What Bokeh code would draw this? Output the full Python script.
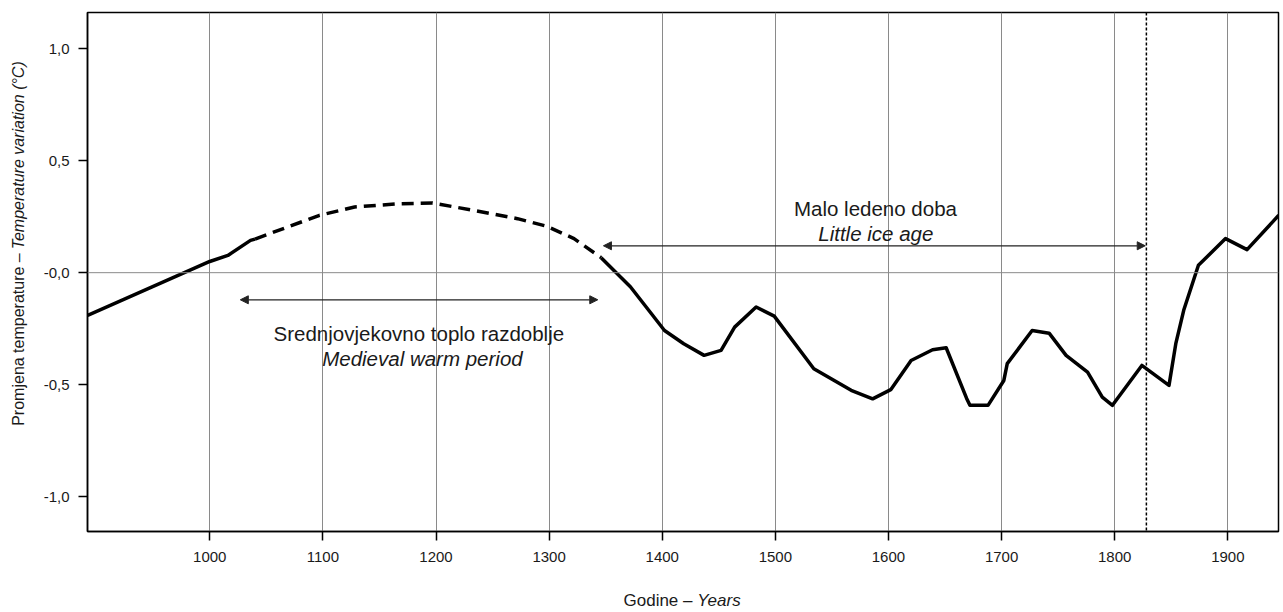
import math
from bokeh.plotting import figure
from bokeh.layouts import row, column
from bokeh.models import (FixedTicker, Span, Label, Arrow, NormalHead, Range1d)
from bokeh.core.properties import value
from bokeh.embed import file_html
from bokeh.resources import INLINE

# ---------------- data ----------------
years_solid_a = [892, 1000, 1016, 1036, 1040]
temps_solid_a = [-0.191, 0.050, 0.077, 0.144, 0.150]

years_dashed = [1040, 1069, 1097, 1128, 1169, 1197, 1242, 1272, 1298, 1322, 1346]
temps_dashed = [0.150, 0.204, 0.256, 0.293, 0.308, 0.311, 0.270, 0.241, 0.207, 0.152, 0.067]

years_solid_b = [1346, 1372, 1402, 1419, 1437, 1452, 1464, 1483, 1499, 1534, 1567,
                 1586, 1602, 1620, 1639, 1651, 1669, 1672, 1688, 1702, 1705, 1727,
                 1742, 1757, 1776, 1789, 1798, 1824, 1848, 1854, 1861, 1874, 1898,
                 1917, 1945]
temps_solid_b = [0.067, -0.064, -0.258, -0.317, -0.369, -0.347, -0.243, -0.153, -0.194, -0.429, -0.525,
                 -0.563, -0.522, -0.392, -0.344, -0.335, -0.560, -0.592, -0.592, -0.481, -0.406, -0.258,
                 -0.270, -0.369, -0.444, -0.555, -0.592, -0.414, -0.503, -0.317, -0.168, 0.033, 0.152,
                 0.103, 0.256]

x_ticks = [1000, 1100, 1200, 1300, 1400, 1500, 1600, 1700, 1800, 1900]
y_ticks = [-1.0, -0.5, 0.0, 0.5, 1.0]
y_tick_labels = ["-1,0", "-0,5", "-0,0", "0,5", "1,0"]

medieval_span = [1027, 1343]
medieval_level = -0.121
lia_span = [1348, 1827]
lia_level = 0.120
end_lia_year = 1828

y_title_parts = ["Promjena temperature \u2013", "Temperature variation (\u00b0C)"]
x_title_parts = ["Godine \u2013", "Years"]

# ---------------- main figure ----------------
FONT = "Liberation Sans"
TXT = "#1a1a1a"
GRID = "#8a8a8a"

p = figure(width=1243, height=582, output_backend="svg", toolbar_location=None, title=None,
           x_range=Range1d(891.9, 1944.8), y_range=Range1d(-1.155, 1.161),
           min_border_left=47, min_border_right=5, min_border_top=12, min_border_bottom=51,
           background_fill_color="white", border_fill_color="white")

p.outline_line_color = "black"
p.outline_line_width = 1.5

for ax in (p.xaxis[0], p.yaxis[0]):
    ax.axis_line_color = "black"
    ax.axis_line_width = 1.5
    ax.major_tick_line_color = "black"
    ax.major_tick_line_width = 1.5
    ax.major_tick_out = 9
    ax.major_tick_in = 0
    ax.minor_tick_line_color = None
    ax.major_label_text_font = FONT
    ax.major_label_text_font_size = "15px"
    ax.major_label_text_color = TXT

p.xaxis.ticker = FixedTicker(ticks=x_ticks)
p.yaxis.ticker = FixedTicker(ticks=y_ticks)
p.yaxis.major_label_overrides = {t: s for t, s in zip(y_ticks, y_tick_labels)}
p.xaxis.major_label_standoff = 11
p.yaxis.major_label_standoff = 9

p.xgrid.grid_line_color = GRID
p.xgrid.grid_line_width = 1
p.ygrid.grid_line_color = None

p.add_layout(Span(location=0, dimension="width", line_color=GRID, line_width=1))
p.add_layout(Span(location=end_lia_year, dimension="height", line_color="black",
                  line_width=1.5, line_dash="3 2"))

# curve
p.line(years_solid_a, temps_solid_a, line_color="black", line_width=3.5, line_join="round")
p.line(years_dashed, temps_dashed, line_color="black", line_width=3.5, line_dash="12 7")
p.line(years_solid_b, temps_solid_b, line_color="black", line_width=3.5, line_join="round")

# arrows
for span, level in ((medieval_span, medieval_level), (lia_span, lia_level)):
    p.add_layout(Arrow(x_start=span[0], y_start=level, x_end=span[1], y_end=level,
                       line_color="#222222", line_width=1.2,
                       start=NormalHead(size=8, fill_color="#222222", line_color="#222222"),
                       end=NormalHead(size=8, fill_color="#222222", line_color="#222222")))

def lab(x, y, text, size, style="normal", align="center", baseline="alphabetic"):
    p.add_layout(Label(x=x, y=y, text=text, text_font=FONT, text_font_size=size,
                       text_font_style=style, text_align=align, text_baseline=baseline,
                       text_color=TXT))

lab(1184.8, -0.271, "Srednjovjekovno toplo razdoblje", "20.5px")
lab(1188.0, -0.384, "Medieval warm period", "20.5px", style="italic")
lab(1588.5, 0.286, "Malo ledeno doba", "20.5px")
lab(1588.8, 0.174, "Little ice age", "20.5px", style="italic")

# ---------------- y-axis title strip (page pixel coordinates) ----------------
ylab = figure(width=40, height=582, output_backend="svg", toolbar_location=None, title=None,
              x_range=Range1d(0, 40), y_range=Range1d(582, 0),
              x_axis_type=None, y_axis_type=None, min_border=0,
              background_fill_color="white", border_fill_color="white")
ylab.outline_line_color = None
ylab.text(x=[18], y=[270], text=[y_title_parts[0]], angle=math.pi / 2,
          text_font=value(FONT), text_font_size="16px", text_font_style="normal",
          text_align="right", text_baseline="middle", text_color=TXT)
ylab.text(x=[18], y=[265.6], text=[y_title_parts[1]], angle=math.pi / 2,
          text_font=value(FONT), text_font_size="16px", text_font_style="italic",
          text_align="left", text_baseline="middle", text_color=TXT)

# ---------------- x-axis title strip (page pixel coordinates) ----------------
xlab = figure(width=1283, height=30, output_backend="svg", toolbar_location=None, title=None,
              x_range=Range1d(0, 1283), y_range=Range1d(612, 582),
              x_axis_type=None, y_axis_type=None, min_border=0,
              background_fill_color="white", border_fill_color="white")
xlab.outline_line_color = None
xlab.text(x=[692], y=[600], text=[x_title_parts[0]],
          text_font=value(FONT), text_font_size="17px", text_font_style="normal",
          text_align="right", text_baseline="middle", text_color=TXT)
xlab.text(x=[696.7], y=[600], text=[x_title_parts[1]],
          text_font=value(FONT), text_font_size="17px", text_font_style="italic",
          text_align="left", text_baseline="middle", text_color=TXT)

layout = column(row(ylab, p, spacing=0), xlab, spacing=0)

open("out.html", "w").write(file_html(layout, INLINE))
